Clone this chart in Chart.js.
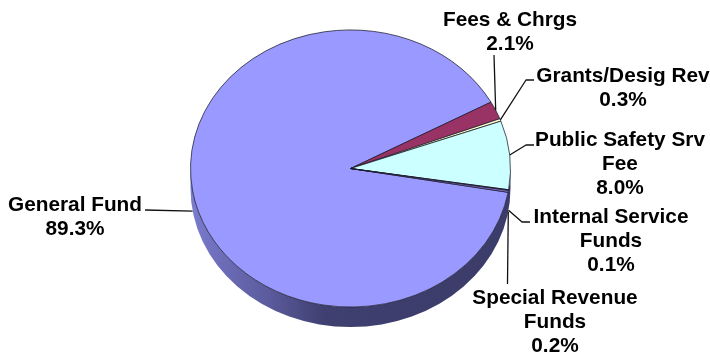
<!DOCTYPE html>
<html>
<head>
<meta charset="utf-8">
<style>
  html, body { margin: 0; padding: 0; background: #fff; }
  #wrap { width: 710px; height: 354px; }
</style>
<script src="https://cdn.jsdelivr.net/npm/chart.js@4/dist/chart.umd.min.js"></script>
</head>
<body>
<div id="wrap"><canvas id="fundsPie" width="710" height="354"></canvas></div>
<script>
const fundNames = ['General Fund', 'Fees & Chrgs', 'Grants/Desig Rev', 'Public Safety Srv Fee', 'Internal Service Funds', 'Special Revenue Funds'];
const fundShares = [89.3, 2.1, 0.3, 8.0, 0.1, 0.2];
const fundColors = ['#9999ff', '#993366', '#ffffcc', '#ccffff', '#660066', '#8a7fe0'];

// Where each label goes, and how its leader runs from the slice to the text
const labelLines = [['General Fund'], ['Fees & Chrgs'], ['Grants/Desig Rev'], ['Public Safety Srv', 'Fee'], ['Internal Service', 'Funds'], ['Special Revenue', 'Funds']];
const labelBoxes = [
  { x: 75, y: 205, onWall: true, leader: [[145, 210]] },
  { x: 510, y: 20, leader: [[494, 55]] },
  { x: 623, y: 76, leader: [[526, 80], [534, 80]] },
  { x: 620, y: 140, leader: [[526, 145], [534, 145]] },
  { x: 611, y: 217, onWall: true, leader: [[522, 222], [530, 222]] },
  { x: 555, y: 298, onWall: true, leader: [[507.5, 284]] }
];

const SQUASH = 0.866;   // tilt of the pie
const WALL_DEPTH = 20;  // height of the side wall
const LINE_HEIGHT = 24;

// Flattens the pie into an ellipse and paints the side wall underneath
const tiltedPiePlugin = {
  id: 'tiltedPie',
  beforeDatasetsDraw(chart) {
    const { ctx } = chart;
    const { x: cx, y: cy, outerRadius: r } = chart.getDatasetMeta(0).data[0];
    const ry = r * SQUASH;

    const wall = ctx.createLinearGradient(cx - r, 0, cx + r, 0);
    wall.addColorStop(0, '#7c7cd0');
    wall.addColorStop(0.1, '#6c6cb8');
    wall.addColorStop(0.25, '#5a5a9c');
    wall.addColorStop(0.42, '#3f3f70');
    wall.addColorStop(1, '#3c3c6a');

    ctx.save();
    ctx.beginPath();
    ctx.ellipse(cx, cy + WALL_DEPTH, r, ry, 0, 0, Math.PI);
    ctx.lineTo(cx - r, cy);
    ctx.ellipse(cx, cy, r, ry, 0, Math.PI, 0, true);
    ctx.closePath();
    ctx.fillStyle = wall;
    ctx.fill();
    ctx.restore();

    ctx.save();
    ctx.translate(0, cy);
    ctx.scale(1, SQUASH);
    ctx.translate(0, -cy);
  },
  afterDatasetsDraw(chart) {
    const { ctx } = chart;
    ctx.restore();

    const arcs = chart.getDatasetMeta(0).data;
    ctx.save();
    ctx.strokeStyle = '#111';
    ctx.lineWidth = 1.3;
    ctx.lineJoin = 'round';
    ctx.fillStyle = '#000';
    ctx.font = 'bold 20.8px "Liberation Sans", Arial, sans-serif';
    ctx.textAlign = 'center';
    ctx.textBaseline = 'middle';

    arcs.forEach((arc, i) => {
      const box = labelBoxes[i];
      const mid = (arc.startAngle + arc.endAngle) / 2;
      const startX = arc.x + arc.outerRadius * Math.cos(mid);
      const startY = arc.y + arc.outerRadius * SQUASH * Math.sin(mid) + (box.onWall ? WALL_DEPTH : 0);

      ctx.beginPath();
      ctx.moveTo(startX, startY);
      box.leader.forEach(([x, y]) => ctx.lineTo(x, y));
      ctx.stroke();

      const lines = [...labelLines[i], fundShares[i].toFixed(1) + '%'];
      lines.forEach((line, n) => ctx.fillText(line, box.x, box.y + n * LINE_HEIGHT));
    });
    ctx.restore();
  }
};

new Chart(document.getElementById('fundsPie'), {
  type: 'pie',
  plugins: [tiltedPiePlugin],
  data: {
    labels: fundNames,
    datasets: [{
      data: fundShares,
      backgroundColor: fundColors,
      borderColor: '#1a1a2a',
      borderWidth: 0.8,
      radius: 160,
      clip: false
    }]
  },
  options: {
    responsive: false,
    animation: false,
    rotation: 99.9,
    layout: { padding: { right: 9, bottom: 17 } },
    plugins: {
      legend: { display: false },
      tooltip: { enabled: false }
    }
  }
});
</script>
</body>
</html>
